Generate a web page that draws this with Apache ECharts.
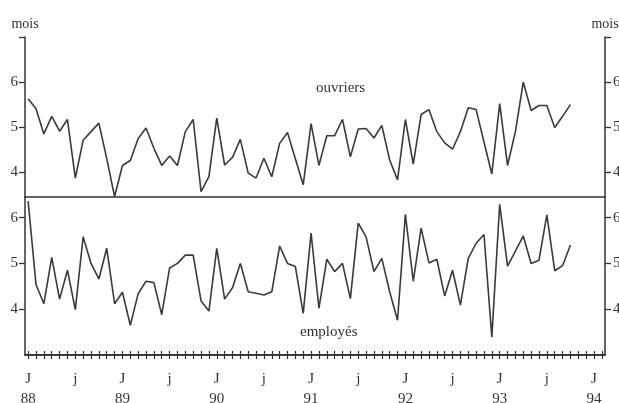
<!DOCTYPE html>
<html><head><meta charset="utf-8">
<script src="https://cdn.jsdelivr.net/npm/echarts@6/dist/echarts.min.js"></script>
<style>html,body{margin:0;padding:0;background:#fff}#c{width:619px;height:403px}</style>
</head><body><div id="c"></div>
<script>
// Monthly values from Jan 1988 (index 0) to Oct 1993 (index 69)
const ouvriers = [5.63,5.41,4.85,5.24,4.91,5.17,3.87,4.71,4.90,5.09,4.30,3.46,
  4.15,4.26,4.75,4.98,4.53,4.15,4.36,4.15,4.90,5.17,3.57,3.90,
  5.20,4.16,4.33,4.73,3.98,3.87,4.31,3.90,4.64,4.88,4.30,3.72,
  5.08,4.15,4.81,4.81,5.17,4.34,4.96,4.97,4.76,5.04,4.27,3.83,
  5.17,4.18,5.28,5.39,4.90,4.65,4.51,4.90,5.43,5.39,4.67,3.96,
  5.52,4.15,4.90,6.00,5.37,5.48,5.48,4.99,5.24,5.50];
const employes = [6.36,4.54,4.12,5.13,4.22,4.85,3.99,5.58,5.00,4.66,5.33,4.12,
  4.37,3.65,4.34,4.61,4.58,3.88,4.90,5.00,5.18,5.18,4.18,3.96,
  5.33,4.22,4.47,5.00,4.38,4.35,4.31,4.38,5.38,5.00,4.93,3.91,
  5.66,4.02,5.09,4.82,5.00,4.23,5.88,5.58,4.82,5.11,4.38,3.76,
  6.07,4.61,5.77,5.01,5.09,4.29,4.85,4.09,5.11,5.44,5.63,3.39,
  6.29,4.94,5.27,5.60,5.00,5.07,6.06,4.84,4.95,5.40];
const xTickLabels = ['J\n88','j','J\n89','j','J\n90','j','J\n91','j','J\n92','j','J\n93','j','J\n94'];
const yTickLabels = [4,5,6];

const FONT = '"Liberation Serif", "DejaVu Serif", serif';
const INK = '#333';
const monthTicks = Array.from({length: 74}, (_, i) => i);
const labelPos = xTickLabels.map((_, k) => k * 6);

function xAx(grid, opts) {
  return Object.assign({
    gridIndex: grid, type: 'value', position: 'bottom', min: -0.4, max: 73.4,
    axisLine: {show: true, onZero: false, lineStyle: {color: INK, width: 1.5}},
    axisTick: {show: false}, axisLabel: {show: false}, splitLine: {show: false}
  }, opts);
}
function yAx(grid, pos, min, max, ticks, withName) {
  return {
    gridIndex: grid, type: 'value', position: pos, min: min, max: max,
    name: withName ? 'mois' : '', nameLocation: 'end', nameGap: 6,
    nameTextStyle: {fontFamily: FONT, fontSize: 14, color: INK, align: 'center', padding: 0},
    axisLine: {show: true, onZero: false, lineStyle: {color: INK, width: 1.5}},
    axisTick: {show: true, inside: false, length: 6, customValues: ticks, lineStyle: {color: INK, width: 1.3}},
    axisLabel: {show: true, customValues: yTickLabels, margin: pos === 'right' ? 8 : 7,
      fontFamily: FONT, fontSize: 15, color: INK},
    splitLine: {show: false}
  };
}

const chart = echarts.init(document.getElementById('c'));
chart.setOption({
  backgroundColor: '#fff',
  animation: false,
  grid: [
    {left: 25, right: 14, top: 37, height: 160, outerBoundsMode: 'none', containLabel: false},
    {left: 25, right: 14, top: 197, height: 158, outerBoundsMode: 'none', containLabel: false}
  ],
  xAxis: [
    xAx(0, {}),
    xAx(1, {axisTick: {show: true, inside: true, length: 4, customValues: monthTicks, lineStyle: {color: INK, width: 1.2}}}),
    xAx(1, {
      axisTick: {show: true, inside: false, length: 4, customValues: monthTicks, lineStyle: {color: INK, width: 1.2}},
      axisLabel: {show: true, customValues: labelPos, margin: 14, interval: 0,
        formatter: v => xTickLabels[Math.round(v / 6)],
        fontFamily: FONT, fontSize: 15, lineHeight: 20, color: INK}
    })
  ],
  yAxis: [
    yAx(0, 'left', 3.45, 7, [4,5,6,7], true),
    yAx(0, 'right', 3.45, 7, [4,5,6,7], true),
    yAx(1, 'left', 3, 6.45, [4,5,6], false),
    yAx(1, 'right', 3, 6.45, [4,5,6], false)
  ],
  series: [
    {name: 'ouvriers', type: 'line', xAxisIndex: 0, yAxisIndex: 0, symbol: 'none', clip: false,
     lineStyle: {color: '#3a3a3a', width: 1.6}, data: ouvriers.map((v, i) => [i, v])},
    {name: 'employés', type: 'line', xAxisIndex: 1, yAxisIndex: 2, symbol: 'none', clip: false,
     lineStyle: {color: '#3a3a3a', width: 1.6}, data: employes.map((v, i) => [i, v])}
  ],
  graphic: [
    {type: 'text', left: 316, top: 81, style: {text: 'ouvriers', font: '15px ' + FONT, fill: INK}},
    {type: 'text', left: 300, top: 325, style: {text: 'employés', font: '15px ' + FONT, fill: INK}}
  ]
});
</script></body></html>
